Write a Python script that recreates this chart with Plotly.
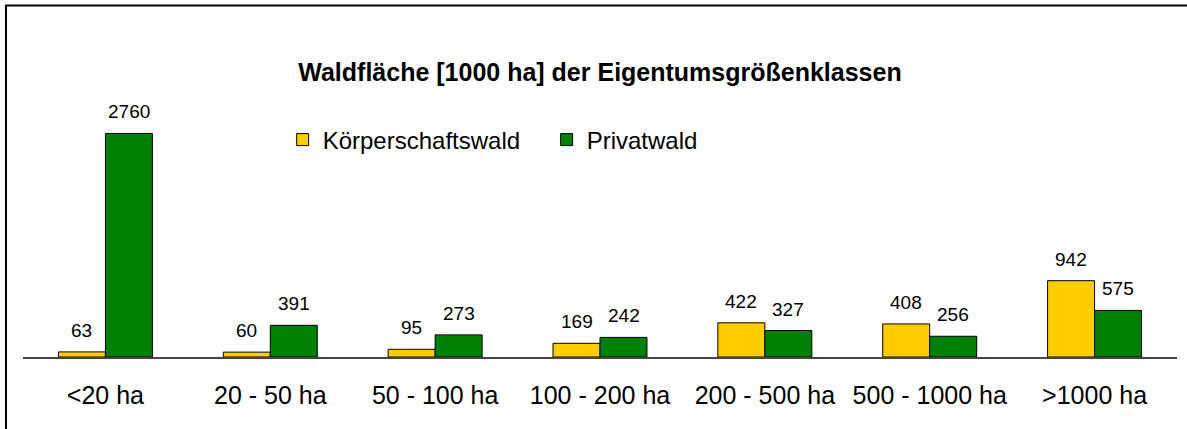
import plotly.graph_objects as go

categories = ["<20 ha", "20 - 50 ha", "50 - 100 ha", "100 - 200 ha", "200 - 500 ha", "500 - 1000 ha", ">1000 ha"]
koerperschaftswald = [63, 60, 95, 169, 422, 408, 942]
privatwald = [2760, 391, 273, 242, 327, 256, 575]
series_names = ["Körperschaftswald", "Privatwald"]
colors = ["#FFCC00", "#008000"]

FONT = "Arial, Liberation Sans, sans-serif"
fig = go.Figure()
for name, vals, col in zip(series_names, [koerperschaftswald, privatwald], colors):
    fig.add_trace(go.Bar(
        x=categories, y=vals, name=name,
        marker=dict(color=col, line=dict(color="black", width=1)),
    ))

# value labels above bars
for vals, shift in [(koerperschaftswald, -23.5), (privatwald, 23.5)]:
    for c, v in zip(categories, vals):
        fig.add_annotation(x=c, y=v, text=str(v), showarrow=False,
                           xshift=shift, yshift=9, yanchor="bottom",
                           font=dict(family=FONT, size=19, color="black"))

# outer chart frame (left and top edges visible in the cropped picture)
bx0 = (6 - 23) / 1154
by1 = (357 - 5.5) / 257
fig.add_shape(type="path", xref="paper", yref="paper",
              path=f"M {bx0},-0.6 L {bx0},{by1} L 1.2,{by1}",
              line=dict(color="black", width=2), fillcolor="rgba(0,0,0,0)", layer="above")

fig.update_layout(
    width=1187, height=429,
    margin=dict(l=23, r=10, t=100, b=72),
    paper_bgcolor="white", plot_bgcolor="white",
    barmode="group", bargap=0.43, bargroupgap=0,
    title=dict(text="<b>Waldfläche [1000 ha] der Eigentumsgrößenklassen</b>",
               x=0.5, xref="paper", xanchor="center",
               y=(429 - 72) / 429, yref="container", yanchor="middle",
               font=dict(family=FONT, size=25, color="black")),
    legend=dict(orientation="h", x=0.225, xanchor="left",
                y=(357 - 140) / 257, yanchor="middle",
                entrywidth=219, entrywidthmode="pixels",
                font=dict(family=FONT, size=24, color="black"),
                bgcolor="rgba(0,0,0,0)", itemclick=False),
    showlegend=True,
    font=dict(family=FONT, color="black"),
)
fig.update_xaxes(showline=True, linecolor="#444", linewidth=1.5,
                 ticks="outside", ticklen=15, tickcolor="rgba(0,0,0,0)",
                 tickfont=dict(family=FONT, size=25, color="black"),
                 showgrid=False, fixedrange=True)
fig.update_yaxes(visible=False, range=[0, 257 / 0.081], showgrid=False, fixedrange=True)

fig.write_html("out.html", config={"displayModeBar": False},
               post_script="document.body.style.margin='0';document.body.style.overflow='hidden';document.documentElement.style.overflow='hidden';")
